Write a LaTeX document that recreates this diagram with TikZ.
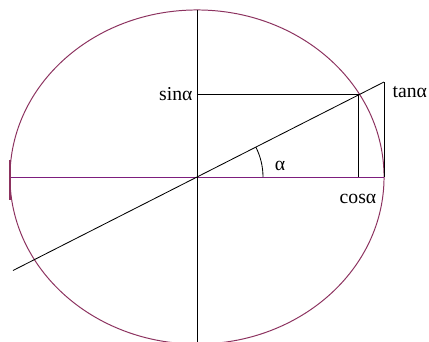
\documentclass[tikz,border=0pt]{standalone}
\usepackage{fontspec}
\setmainfont{Liberation Serif}
\usepackage{xcolor}
\usepackage{tikz}
\usetikzlibrary{positioning, calc}
\definecolor{rimpurple}{RGB}{140, 50, 95}
\definecolor{axispurple}{RGB}{125, 30, 125}

\begin{document}
\begin{tikzpicture}[
    x=0.025cm, y=0.025cm,
    font=\fontsize{14}{16}\selectfont,
    rim/.style={draw=rimpurple, line width=0.7pt},
    axisline/.style={draw=axispurple, line width=0.7pt},
    thinline/.style={draw=black, line width=0.6pt},
    label/.style={inner sep=1pt}
]
\useasboundingbox (-197,-165) rectangle (232,177);

% Points
\coordinate (O) at (0,0);
\coordinate (P) at (161.7,82.5);
\coordinate (T) at (187,95);
\coordinate (B) at (-184,-93.5);
\coordinate (Sx) at (0,82.5);
\coordinate (Cx) at (161.7,0);
\coordinate (R) at (187,0);
\coordinate (L) at (-187,0);

% Circle and axes
\draw[rim] (O) ellipse [x radius=4.675cm, y radius=4.175cm];
\draw[axisline] (L) -- (R);
\draw[rim, line width=1.4pt] (-187,17) -- (-187,-23);
\draw[thinline] (0,167) -- (0,-170);

% Radius and projections
\draw[thinline] (B) -- (T);
\draw[thinline] (Sx) -- (P) -- (Cx);
\draw[thinline] (R) -- (T);

% Angle
\draw[thinline] (66,0) arc[start angle=0, end angle=26.9, radius=1.65cm];

% Labels
\node[label, left=2pt of Sx] (sinlab) {sinα};
\node[label, anchor=west] (tanlab) at (194,85) {tanα};
\node[label] (coslab) at (161,-22) {cosα};
\node[label] (alab) at (83,11) {α};

\end{tikzpicture}
\end{document}
